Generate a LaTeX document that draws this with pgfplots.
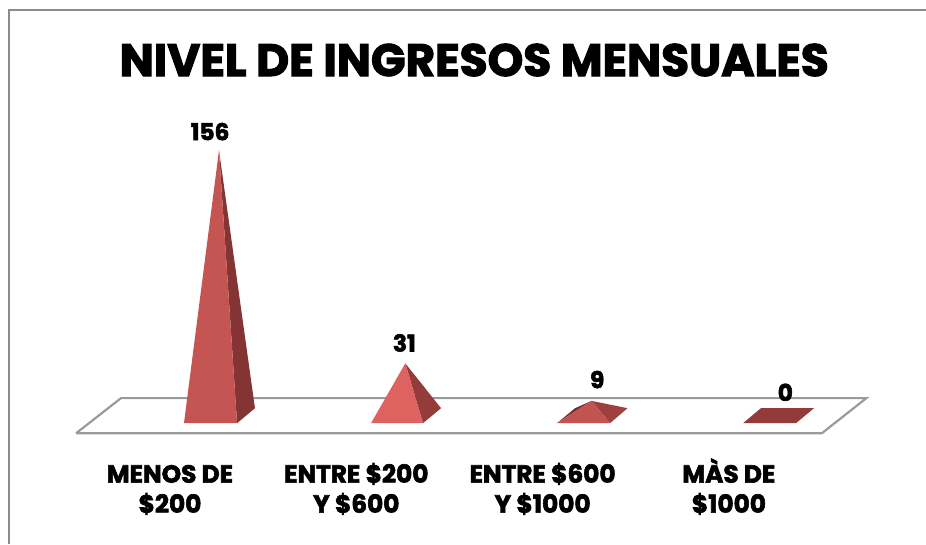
\documentclass[border=0pt]{standalone}
\usepackage{fontspec}
\setmainfont{Poppins}[BoldFeatures={FakeBold=2.4}]
\usepackage{pgfplots}
\pgfplotsset{compat=1.18}
\definecolor{frameG}{HTML}{8C8C8C}
\definecolor{floorG}{HTML}{9A9A9A}
\definecolor{aF}{HTML}{C55553}
\definecolor{aS}{HTML}{843533}
\definecolor{bF}{HTML}{DE6260}
\definecolor{bS}{HTML}{943C3A}
\definecolor{cF}{HTML}{C2544F}
\definecolor{cS}{HTML}{9E403D}
\definecolor{cD}{HTML}{7A3030}
\definecolor{dF}{HTML}{933B39}
\newcommand{\hs}{\rule{0pt}{12.5pt}}
\begin{document}
\begin{tikzpicture}
\begin{axis}[
  scale only axis, width=463pt, height=272pt,
  xmin=-1.1755, xmax=3.795, ymin=-75.1, ymax=244.1,
  axis line style={draw=none},
  major tick length=0pt,
  ytick=\empty,
  xtick={0,1,2,3},
  xticklabels={{\hs MENOS DE\\\$200},{\hs ENTRE \$200\\Y \$600},{\hs ENTRE \$600\\Y \$1000},{\hs MÀS DE\\\$1000}},
  x tick label style={align=center, font=\fontsize{12.4}{15}\selectfont\bfseries, xshift=-24.5pt, yshift=46.8pt, text=black},
]
% frame and floor
\addplot[frameG, line width=1pt] coordinates {(-1.127,-75.1) (-1.127,238.3) (3.795,238.3)};
\addplot[floorG, line width=1.1pt] coordinates {(-0.767,-10) (-0.526,10.6) (3.475,10.6) (3.236,-10) (-0.767,-10)};
% 156
\addplot[fill=aS, draw=none] coordinates {(0.097,-4.1) (0.193,4.7) (0,156)} -- cycle;
\addplot[fill=aF, draw=none] coordinates {(-0.188,-4.1) (0.097,-4.1) (0,156)} -- cycle;
% 31
\addplot[fill=bS, draw=none] coordinates {(1.095,-4.1) (1.192,4.7) (1,31)} -- cycle;
\addplot[fill=bF, draw=none] coordinates {(0.816,-4.1) (1.095,-4.1) (1,31)} -- cycle;
% 9
\addplot[fill=cD, draw=none] coordinates {(1.814,-4.1) (1.911,4.7) (2,9)} -- cycle;
\addplot[fill=cS, draw=none] coordinates {(2.099,-4.1) (2.193,4.7) (2,9)} -- cycle;
\addplot[fill=cF, draw=none] coordinates {(1.814,-4.1) (2.099,-4.1) (2,9)} -- cycle;
% 0
\addplot[fill=dF, draw=none] coordinates {(2.813,-4.1) (3.097,-4.1) (3.194,4.7) (2.909,4.7)} -- cycle;
% title and value labels
\node[font=\fontsize{22.7}{26}\selectfont\bfseries] at (axis cs:1.37,209) {NIVEL DE INGRESOS MENSUALES};
\node[font=\fontsize{11.6}{14}\selectfont\bfseries] at (axis cs:-0.048,167) {156};
\node[font=\fontsize{11.6}{14}\selectfont\bfseries] at (axis cs:0.995,43) {31};
\node[font=\fontsize{11.6}{14}\selectfont\bfseries] at (axis cs:2.03,21.5) {9};
\node[font=\fontsize{11.6}{14}\selectfont\bfseries] at (axis cs:3.04,14) {0};
\end{axis}
\end{tikzpicture}
\end{document}
